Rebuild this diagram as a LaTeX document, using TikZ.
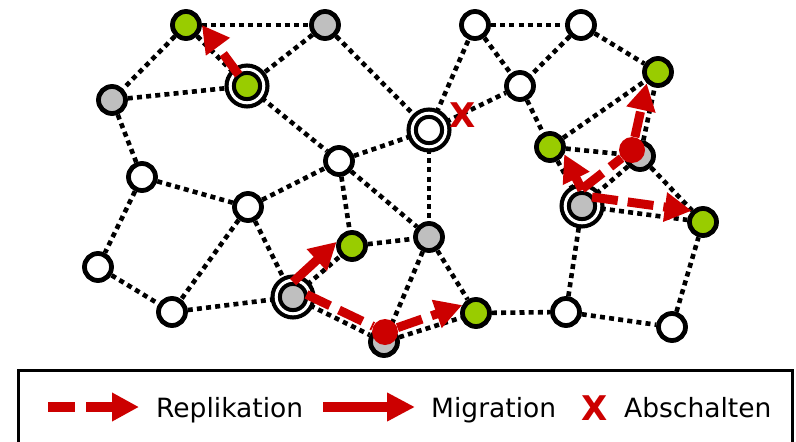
\documentclass[tikz,border=0pt]{standalone}
\usepackage{fontspec}
\setmainfont{DejaVu Sans}
\usetikzlibrary{arrows.meta,backgrounds}
\definecolor{nodegreen}{HTML}{99CC00}
\definecolor{nodegray}{HTML}{BFBFBF}
\definecolor{actred}{HTML}{CC0000}
\tikzset{
  nd/.style={circle, draw=black, line width=4.8pt, minimum size=27pt, inner sep=0pt},
  wht/.style={nd, fill=white},
  gry/.style={nd, fill=nodegray},
  grn/.style={nd, fill=nodegreen},
  ring/.style={double=white, double distance=3pt, line width=4.2pt, minimum size=33.6pt},
  link/.style={draw=black, line width=4.6pt, dash pattern=on 5pt off 4.2pt},
  reddot/.style={circle, fill=actred, minimum size=26pt, inner sep=0pt},
  tip/.style={-{Triangle[length=27pt, width=28pt]}},
  repline/.style={draw=actred, line width=9pt, dash pattern=on 26pt off 10pt},
  rep/.style={repline, tip},
  mig/.style={draw=actred, line width=9pt, tip},
  legrep/.style={draw=actred, line width=10pt, dash pattern=on 27pt off 11pt, -{Triangle[length=27pt, width=27pt]}},
  legmig/.style={draw=actred, line width=10pt, -{Triangle[length=28pt, width=27pt]}},
  legtext/.style={inner sep=0pt, font=\fontsize{26.5}{30}\selectfont},
  xmark/.style={inner sep=0pt, text=actred, font=\fontsize{34}{34}\selectfont\bfseries}
}
\begin{document}
\begin{tikzpicture}[x=1pt, y=-1pt]
\useasboundingbox (0,0) rectangle (796,442);
\clip (0,0) rectangle (796,442);

% network nodes
\node[grn]      (n1)  at (186,25)  {};
\node[gry]      (n2)  at (325,25)  {};
\node[gry]      (n3)  at (112,100) {};
\node[grn,ring] (n4)  at (247,86)  {};
\node[wht,ring] (n5)  at (429,130) {};
\node[wht]      (n6)  at (339,161) {};
\node[wht]      (n7)  at (142,177) {};
\node[wht]      (n8)  at (248,207) {};
\node[wht]      (n9)  at (98,267)  {};
\node[wht]      (n10) at (172,312) {};
\node[gry,ring] (n11) at (293,297) {};
\node[grn]      (n12) at (352,246) {};
\node[gry]      (n13) at (429,237) {};
\node[gry]      (n14) at (384,342) {};
\node[grn]      (n15) at (476,313) {};
\node[wht]      (n16) at (475,25)  {};
\node[wht]      (n17) at (581,25)  {};
\node[wht]      (n18) at (520,86)  {};
\node[grn]      (n19) at (658,72)  {};
\node[grn]      (n20) at (550,147) {};
\node[gry]      (n21) at (640,156) {};
\node[gry,ring] (n22) at (582,206) {};
\node[grn]      (n23) at (703,222) {};
\node[wht]      (n24) at (566,312) {};
\node[wht]      (n25) at (672,327) {};

% dotted links behind the nodes
\begin{scope}[on background layer]
\foreach \a/\b in {1/2, 1/3, 1/4, 3/4, 2/4, 2/5, 4/6, 6/5, 5/16, 5/18, 5/13,
                   3/7, 7/8, 7/9, 9/10, 8/6, 8/10, 8/11, 6/12, 6/13, 10/11,
                   11/12, 12/13, 11/14, 13/14, 13/15, 14/15, 15/24, 24/25,
                   24/22, 25/23, 22/23, 22/21, 20/22, 16/17, 16/18, 17/18,
                   17/19, 18/20, 20/19, 20/21, 21/19, 21/23}
  \draw[link] (n\a) -- (n\b);
\end{scope}

% intermediate points of the replication paths
\node[reddot] (d1) at (385,332) {};
\node[reddot] (d2) at (632,150) {};

% switched-off link
\node[xmark] (x5) at (462.5,115.5) {X};

% replication and migration arrows
\draw[rep, shorten <=14pt] (n4.center) -- (n1.east);
\draw[mig] ([yshift=15pt]n11.center) -- (n12.165);
\draw[repline, shorten <=15pt] ([yshift=9pt]n11.center) -- (d1);
\draw[rep] (d1) -- (n15.150);
\draw[mig] ([yshift=16pt]n22.center) -- (n20.-27);
\draw[repline] ([yshift=17pt]n22.center) -- (d2);
\draw[rep] (d2) -- (n19.south west);
\draw[rep] ([shift={(10pt,9pt)}]n22.center) -- (n23.north west);

% legend
\draw[line width=3pt] (18,370) rectangle (792,470);
\coordinate (ra) at (48,407);
\coordinate (rb) at (139,407);
\draw[legrep] (ra) -- (rb);
\node[legtext, anchor=base west] (lr) at (156,417) {Replikation};
\coordinate (ma) at (323,407);
\coordinate (mb) at (415,407);
\draw[legmig] (ma) -- (mb);
\node[legtext, anchor=base west] (lm) at (431,417) {Migration};
\node[xmark] (lx) at (594.5,408) {X};
\node[legtext, anchor=base west] (la) at (624,417) {Abschalten};
\end{tikzpicture}
\end{document}
